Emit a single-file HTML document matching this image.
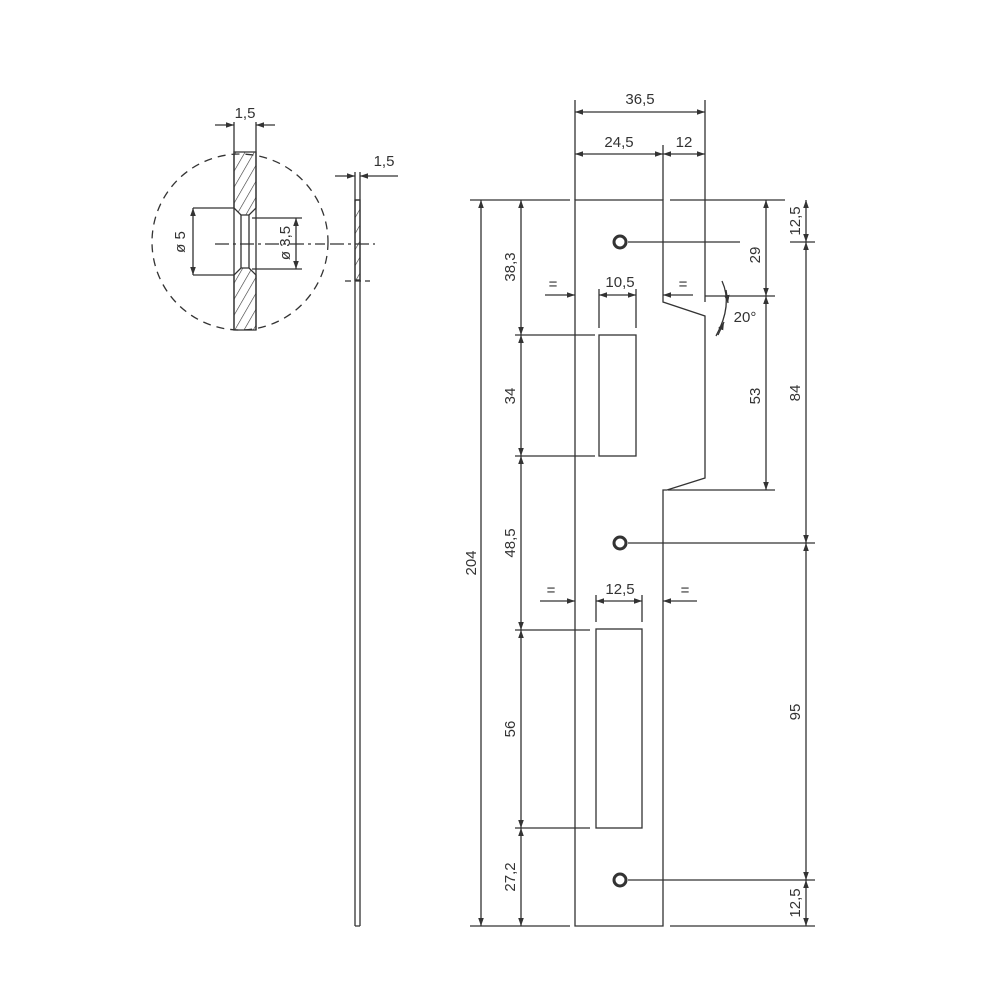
<!DOCTYPE html>
<html><head><style>body{margin:0;background:#fff}svg{display:block}text{font-family:"Liberation Sans",sans-serif;font-size:15px;fill:#333}</style></head>
<body>
<svg width="1000" height="1000" viewBox="0 0 1000 1000" xmlns="http://www.w3.org/2000/svg">
<defs>
<marker id="a" viewBox="0 0 10 10" refX="10" refY="5" markerWidth="8" markerHeight="8" orient="auto-start-reverse" markerUnits="userSpaceOnUse"><path d="M0,1.5L10,5L0,8.5z" fill="#333"/></marker>
<pattern id="h" width="8" height="8" patternUnits="userSpaceOnUse" patternTransform="rotate(30)"><line x1="0" y1="0" x2="0" y2="8" stroke="#333" stroke-width="1.2"/></pattern>
</defs>
<g stroke="#333" stroke-width="1.3" fill="none">
<circle cx="240" cy="242" r="88" stroke-dasharray="8,6"/>
<path d="M234,152V330 M256,152V330"/>
<path d="M234,152H256V208L249,215H241L234,208Z" fill="url(#h)"/>
<path d="M234,330H256V275L249,268H241L234,275Z" fill="url(#h)"/>
<path d="M241,215V268 M249,215V268"/>
<path d="M234,122V152 M256,122V152"/>
<line x1="215" y1="125" x2="234" y2="125" marker-end="url(#a)"/>
<line x1="275" y1="125" x2="256" y2="125" marker-end="url(#a)"/>
<path d="M193,208H234 M193,275H234"/>
<line x1="193" y1="208" x2="193" y2="275" marker-start="url(#a)" marker-end="url(#a)"/>
<path d="M252,218H302 M252,269H302"/>
<line x1="296" y1="218" x2="296" y2="269" marker-start="url(#a)" marker-end="url(#a)"/>
<path d="M215,244H325" stroke-dasharray="14,4,3,4"/>
<path d="M330,244H375" stroke-dasharray="14,4,3,4"/>
<path d="M355,200V926 M360,200V926 M355,200H360 M355,926H360"/>
<rect x="355" y="200" width="5" height="80" fill="url(#h)"/>
<path d="M355,172V200 M360,172V200"/>
<line x1="335" y1="176" x2="355" y2="176" marker-end="url(#a)"/>
<line x1="398" y1="176" x2="360" y2="176" marker-end="url(#a)"/>
<path d="M345,281H370" stroke-dasharray="6,4"/>
<path d="M575,200H663V302L705,316V478L667,490H663V926H575Z"/>
<rect x="599" y="335" width="37" height="121"/>
<rect x="596" y="629" width="46" height="199"/>
<circle cx="620" cy="242" r="6" stroke-width="3"/>
<circle cx="620" cy="543" r="6" stroke-width="3"/>
<circle cx="620" cy="880" r="6" stroke-width="3"/>
<path d="M575,100V200 M705,100V302 M663,145V200"/>
<line x1="575" y1="112" x2="705" y2="112" marker-start="url(#a)" marker-end="url(#a)"/>
<line x1="575" y1="154" x2="663" y2="154" marker-start="url(#a)" marker-end="url(#a)"/>
<line x1="663" y1="154" x2="705" y2="154" marker-start="url(#a)" marker-end="url(#a)"/>
<path d="M470,200H570 M670,200H785 M470,926H570 M670,926H815"/>
<path d="M515,335H595 M515,456H595 M515,630H590 M515,828H590"/>
<path d="M628,242H740 M790,242H815 M628,543H815 M628,880H815"/>
<path d="M705,296H775 M668,490H775"/>
<line x1="481" y1="200" x2="481" y2="926" marker-start="url(#a)" marker-end="url(#a)"/>
<line x1="521" y1="200" x2="521" y2="335" marker-start="url(#a)" marker-end="url(#a)"/>
<line x1="521" y1="335" x2="521" y2="456" marker-start="url(#a)" marker-end="url(#a)"/>
<line x1="521" y1="456" x2="521" y2="630" marker-start="url(#a)" marker-end="url(#a)"/>
<line x1="521" y1="630" x2="521" y2="828" marker-start="url(#a)" marker-end="url(#a)"/>
<line x1="521" y1="828" x2="521" y2="926" marker-start="url(#a)" marker-end="url(#a)"/>
<line x1="766" y1="200" x2="766" y2="296" marker-start="url(#a)" marker-end="url(#a)"/>
<line x1="766" y1="296" x2="766" y2="490" marker-start="url(#a)" marker-end="url(#a)"/>
<line x1="806" y1="200" x2="806" y2="242" marker-start="url(#a)" marker-end="url(#a)"/>
<line x1="806" y1="242" x2="806" y2="543" marker-start="url(#a)" marker-end="url(#a)"/>
<line x1="806" y1="543" x2="806" y2="880" marker-start="url(#a)" marker-end="url(#a)"/>
<line x1="806" y1="880" x2="806" y2="926" marker-start="url(#a)" marker-end="url(#a)"/>
<path d="M599,289V328 M636,289V328 M596,595V622 M642,595V622"/>
<line x1="545" y1="295" x2="575" y2="295" marker-end="url(#a)"/>
<line x1="599" y1="295" x2="636" y2="295" marker-start="url(#a)" marker-end="url(#a)"/>
<line x1="693" y1="295" x2="663" y2="295" marker-end="url(#a)"/>
<line x1="540" y1="601" x2="575" y2="601" marker-end="url(#a)"/>
<line x1="596" y1="601" x2="642" y2="601" marker-start="url(#a)" marker-end="url(#a)"/>
<line x1="697" y1="601" x2="663" y2="601" marker-end="url(#a)"/>
<path d="M722,281Q733,305 716,336"/>
<line x1="726" y1="290" x2="728" y2="303" marker-end="url(#a)"/>
<line x1="718" y1="335" x2="724" y2="322" marker-end="url(#a)"/>
</g>
<g>
<text x="245" y="118" text-anchor="middle">1,5</text>
<text x="384" y="166" text-anchor="middle">1,5</text>
<text transform="translate(185,242) rotate(-90)" text-anchor="middle">ø 5</text>
<text transform="translate(290,243) rotate(-90)" text-anchor="middle">ø 3,5</text>
<text x="640" y="104" text-anchor="middle">36,5</text>
<text x="619" y="147" text-anchor="middle">24,5</text>
<text x="684" y="147" text-anchor="middle">12</text>
<text x="620" y="287" text-anchor="middle">10,5</text>
<text x="620" y="594" text-anchor="middle">12,5</text>
<text x="553" y="289" text-anchor="middle">=</text>
<text x="683" y="289" text-anchor="middle">=</text>
<text x="551" y="595" text-anchor="middle">=</text>
<text x="685" y="595" text-anchor="middle">=</text>
<text x="745" y="322" text-anchor="middle">20°</text>
<text transform="translate(476,563) rotate(-90)" text-anchor="middle">204</text>
<text transform="translate(515,267) rotate(-90)" text-anchor="middle">38,3</text>
<text transform="translate(515,396) rotate(-90)" text-anchor="middle">34</text>
<text transform="translate(515,543) rotate(-90)" text-anchor="middle">48,5</text>
<text transform="translate(515,729) rotate(-90)" text-anchor="middle">56</text>
<text transform="translate(515,877) rotate(-90)" text-anchor="middle">27,2</text>
<text transform="translate(760,255) rotate(-90)" text-anchor="middle">29</text>
<text transform="translate(760,396) rotate(-90)" text-anchor="middle">53</text>
<text transform="translate(800,221) rotate(-90)" text-anchor="middle">12,5</text>
<text transform="translate(800,393) rotate(-90)" text-anchor="middle">84</text>
<text transform="translate(800,712) rotate(-90)" text-anchor="middle">95</text>
<text transform="translate(800,903) rotate(-90)" text-anchor="middle">12,5</text>
</g>
</svg>
</body></html>
